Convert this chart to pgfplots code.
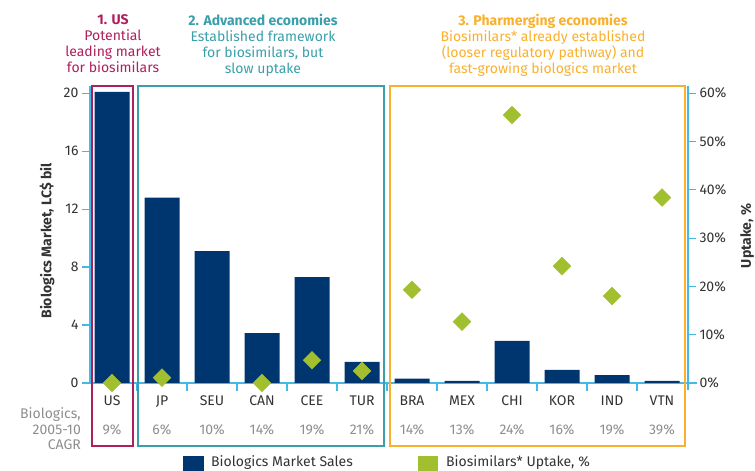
\documentclass[border=0pt]{standalone}
\usepackage{pgfplots}
\pgfplotsset{compat=1.18}
\usepackage{pgfplotstable}
\usepackage{fontspec}
\setmainfont{Fira Sans}

\definecolor{navy}{HTML}{003670}
\definecolor{lime}{HTML}{A1BF2F}
\definecolor{axblue}{HTML}{45B9E6}
\definecolor{usred}{HTML}{AF1F5C}
\definecolor{teal2}{HTML}{3A9FAB}
\definecolor{orng}{HTML}{F9B02E}
\definecolor{txt}{HTML}{333333}
\definecolor{cagr}{HTML}{8E8E8E}

\pgfplotstableread{
x sales uptake
0 20.1 0
1 12.8 1.1
2 9.1 nan
3 3.45 0
4 7.3 4.7
5 1.45 2.5
6 0.3 19.3
7 0.15 12.7
8 2.9 55.5
9 0.9 24.2
10 0.55 18.0
11 0.15 38.4
}\datatable

\newcommand{\fs}{\fontsize{14bp}{16bp}\selectfont}

\begin{document}
\begin{tikzpicture}[x=1bp,y=1bp]
\useasboundingbox (0,0) rectangle (755,471);

\begin{axis}[
  at={(90bp,88bp)}, anchor=south west, scale only axis,
  width=598bp, height=297bp,
  xmin=-0.44, xmax=11.52, ymin=0, ymax=20.5,
  axis x line*=bottom, axis y line*=left,
  axis line style={axblue, line width=1.2bp},
  x axis line style={shorten >=-9bp},
  tick style={axblue, line width=1.2bp},
  tick align=outside,
  major tick length=8bp,
  ytick={0,4,...,20},
  xtick={0.5,1.5,...,10.5}, xticklabels={},
  extra x ticks={0,1,...,11},
  extra x tick labels={{US\\[13bp]\textcolor{cagr}{9\%}},{JP\\[13bp]\textcolor{cagr}{6\%}},{SEU\\[13bp]\textcolor{cagr}{10\%}},{CAN\\[13bp]\textcolor{cagr}{14\%}},{CEE\\[13bp]\textcolor{cagr}{19\%}},{TUR\\[13bp]\textcolor{cagr}{21\%}},{BRA\\[13bp]\textcolor{cagr}{14\%}},{MEX\\[13bp]\textcolor{cagr}{13\%}},{CHI\\[13bp]\textcolor{cagr}{24\%}},{KOR\\[13bp]\textcolor{cagr}{16\%}},{IND\\[13bp]\textcolor{cagr}{19\%}},{VTN\\[13bp]\textcolor{cagr}{39\%}}},
  extra x tick style={major tick length=0pt, tick label style={align=center, yshift=-9bp, font=\fs, text=txt}},
  tick label style={font=\fs, text=txt},
  /pgf/number format/assume math mode=true,
]
\addplot[ybar, bar width=35bp, fill=navy, draw=none] table[x=x, y=sales]{\datatable};
\end{axis}

\begin{axis}[
  at={(90bp,88bp)}, anchor=south west, scale only axis,
  width=598bp, height=297bp,
  xmin=-0.44, xmax=11.52, ymin=0, ymax=61.5,
  axis x line=none, axis y line*=right,
  axis line style={axblue, line width=1.2bp},
  y axis line style={shorten <=-7bp},
  tick style={axblue, line width=1.2bp},
  tick align=outside,
  major tick length=8bp,
  ytick={0,10,...,60},
  yticklabel={\pgfmathprintnumber{\tick}\%},
  tick label style={font=\fs, text=txt},
  /pgf/number format/assume math mode=true,
  clip=false,
]
\addplot[only marks, mark=square*, mark size=6.3bp, mark options={rotate=45, fill=lime, draw=lime}] table[x=x, y=uptake]{\datatable};
\end{axis}

% group frames
\draw[usred, line width=2.2bp] (92,385) rectangle (133.3,25);
\draw[teal2, line width=2.2bp] (138.3,385) rectangle (384,25);
\draw[orng, line width=2.2bp] (389.7,385) rectangle (685,25);

% titles
\node[align=center, text=usred, font=\fs] at (113,427) {\textbf{1. US}\\Potential\\leading market\\for biosimilars};
\node[align=center, text=teal2, font=\fs] at (263,426) {\textbf{2. Advanced economies}\\Established framework\\for biosimilars, but\\slow uptake};
\node[align=center, text=orng, font=\fs] at (543,425.5) {\textbf{3. Pharmerging economies}\\Biosimilars* already established\\(looser regulatory pathway) and\\fast-growing biologics market};

% axis titles
\node[rotate=90, text=txt, font=\fs\bfseries] at (47,230) {Biologics Market, LC\$ bil};
\node[rotate=90, anchor=north, inner sep=0pt, text=txt, font=\fs\bfseries] at (740,235) {Uptake, \%};

% CAGR row title
\node[align=right, anchor=east, inner sep=0pt, text=cagr, font=\fontsize{14bp}{15.5bp}\selectfont] at (81,42) {Biologics,\\2005-10\\CAGR};

% legend
\fill[navy] (183,-5) rectangle (204,15);
\node[anchor=west, text=txt, font=\fs, inner sep=0pt] at (211,8) {Biologics Market Sales};
\fill[lime] (418,-5) rectangle (438,15);
\node[anchor=west, text=txt, font=\fs, inner sep=0pt] at (446,8) {Biosimilars* Uptake, \%};
\end{tikzpicture}
\end{document}
